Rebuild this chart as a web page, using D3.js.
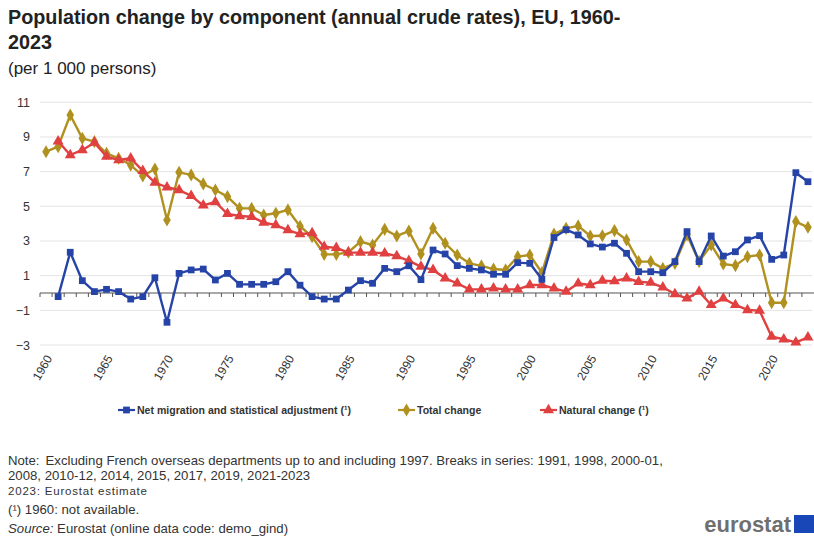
<!DOCTYPE html>
<html>
<head>
<meta charset="utf-8">
<script src="https://cdn.jsdelivr.net/npm/d3@7"></script>
<style>
  body { margin: 0; background: #fff; }
  svg { display: block; font-family: Arial, "Liberation Sans", sans-serif; }
</style>
</head>
<body>
<svg id="chart" width="814" height="536"></svg>
<script>
const years = d3.range(1960, 2024);
const netMigration = [null, -0.21, 2.35, 0.71, 0.08, 0.21, 0.08, -0.35, -0.21, 0.88,
  -1.69, 1.13, 1.33, 1.38, 0.75, 1.13, 0.5, 0.5, 0.5, 0.65,
  1.23, 0.45, -0.21, -0.35, -0.35, 0.17, 0.71, 0.56, 1.42, 1.23,
  1.57, 0.77, 2.48, 2.25, 1.58, 1.42, 1.33, 1.08, 1.08, 1.75,
  1.71, 0.79, 3.2, 3.65, 3.35, 2.83, 2.65, 2.87, 2.29, 1.23,
  1.23, 1.17, 1.81, 3.54, 1.81, 3.29, 2.13, 2.38, 3.06, 3.31,
  1.94, 2.19, 6.94, 6.42];
const totalChange = [8.15, 8.44, 10.27, 8.92, 8.73, 8.06, 7.77, 7.38, 6.75, 7.15,
  4.21, 6.96, 6.81, 6.29, 5.94, 5.56, 4.88, 4.88, 4.5, 4.6,
  4.79, 3.85, 3.25, 2.23, 2.23, 2.35, 2.96, 2.77, 3.67, 3.29,
  3.57, 2.25, 3.73, 2.87, 2.19, 1.71, 1.56, 1.38, 1.33, 2.1,
  2.19, 1.17, 3.4, 3.73, 3.87, 3.29, 3.3, 3.6, 3.06, 1.81,
  1.81, 1.42, 1.71, 3.35, 1.81, 2.77, 1.67, 1.58, 2.1, 2.19,
  -0.56, -0.56, 4.12, 3.79];
const naturalChange = [null, 8.75, 7.96, 8.25, 8.67, 7.87, 7.67, 7.77, 7.04, 6.37,
  6.1, 5.94, 5.6, 5.05, 5.25, 4.56, 4.44, 4.4, 4.06, 3.92,
  3.63, 3.4, 3.45, 2.67, 2.6, 2.33, 2.33, 2.33, 2.29, 2.13,
  1.85, 1.52, 1.33, 0.85, 0.56, 0.21, 0.21, 0.27, 0.21, 0.21,
  0.46, 0.46, 0.27, 0.08, 0.55, 0.46, 0.71, 0.68, 0.85, 0.65,
  0.6, 0.33, -0.06, -0.31, 0.08, -0.69, -0.31, -0.69, -0.98, -1.02,
  -2.52, -2.67, -2.85, -2.56];
const yTicks = [-3, -1, 1, 3, 5, 7, 9, 11];
const xTickLabels = [1960, 1965, 1970, 1975, 1980, 1985, 1990, 1995, 2000, 2005, 2010, 2015, 2020];
const seriesNames = ["Net migration and statistical adjustment (\u00b9)", "Total change", "Natural change (\u00b9)"];
const seriesColors = ["#2644A7", "#B09120", "#E04040"];

const svg = d3.select("#chart");
const xb = d3.scaleBand().domain(years).range([40, 814]);
const xc = d => xb(d) + xb.bandwidth() / 2;
const y = d3.scaleLinear().domain([-3, 11]).range([345, 102.3]);

// Title
svg.append("text").attr("x", 8).attr("y", 24).attr("font-size", 19.8).attr("font-weight", "bold").attr("fill", "#222")
  .text("Population change by component (annual crude rates), EU, 1960-");
svg.append("text").attr("x", 8).attr("y", 49).attr("font-size", 19.8).attr("font-weight", "bold").attr("fill", "#222")
  .text("2023");
svg.append("text").attr("x", 8).attr("y", 74).attr("font-size", 17).attr("fill", "#222")
  .text("(per 1 000 persons)");

// Gridlines
svg.append("g").selectAll("line").data(yTicks).join("line")
  .attr("x1", 40).attr("x2", 812).attr("y1", d => y(d)).attr("y2", d => y(d))
  .attr("stroke", "#e3e3e3").attr("stroke-width", 1);

// Y axis
const yAxis = svg.append("g").attr("transform", "translate(30,0)")
  .call(d3.axisLeft(y).tickValues(yTicks).tickSize(0).tickPadding(0).tickFormat(d3.format("d")));
yAxis.select(".domain").remove();
yAxis.selectAll("text").attr("font-size", 12.5).attr("fill", "#333").attr("font-family", "Arial, 'Liberation Sans', sans-serif");

// Zero axis line with ticks at category boundaries
const zeroY = y(0);
svg.append("line").attr("x1", 40).attr("x2", 814).attr("y1", zeroY).attr("y2", zeroY)
  .attr("stroke", "#555").attr("stroke-width", 1.2);
svg.append("g").selectAll("line").data(years).join("line")
  .attr("x1", d => xb(d)).attr("x2", d => xb(d)).attr("y1", zeroY).attr("y2", zeroY + 4)
  .attr("stroke", "#555").attr("stroke-width", 1);

// X labels
const xAxis = svg.append("g").attr("transform", "translate(0,352)")
  .call(d3.axisBottom(xb).tickValues(xTickLabels).tickSize(0).tickPadding(0));
xAxis.select(".domain").remove();
xAxis.selectAll("text")
  .attr("font-size", 12).attr("fill", "#333").attr("font-family", "Arial, 'Liberation Sans', sans-serif")
  .attr("text-anchor", "end").attr("dy", "0.35em").attr("y", 0)
  .attr("transform", "translate(3,4) rotate(-60)");

// Series
const allSeries = [netMigration, totalChange, naturalChange];
const line = d3.line().defined(d => d.v != null).x(d => xc(d.yr)).y(d => y(d.v));
const markerSym = [d3.symbolSquare, d3.symbolDiamond, d3.symbolTriangle];
const markerSize = [46, 50, 52];

[1, 2, 0].forEach(i => {
  const pts = years.map((yr, j) => ({ yr, v: allSeries[i][j] }));
  const g = svg.append("g");
  g.append("path").datum(pts).attr("d", line).attr("fill", "none")
    .attr("stroke", seriesColors[i]).attr("stroke-width", 2.4).attr("stroke-linejoin", "round");
  g.selectAll("path.m").data(pts.filter(d => d.v != null)).join("path").attr("class", "m")
    .attr("d", d3.symbol().type(markerSym[i]).size(markerSize[i]))
    .attr("transform", d => `translate(${xc(d.yr)},${y(d.v)})`)
    .attr("fill", seriesColors[i]);
});

// Legend (uniform horizontal compression so all labels look alike)
const legendX = [118, 398, 540];
const lg = svg.append("g");
const texts = [];
seriesNames.forEach((name, i) => {
  const gx = legendX[i];
  lg.append("line").attr("x1", gx).attr("x2", gx + 17).attr("y1", 410).attr("y2", 410)
    .attr("stroke", seriesColors[i]).attr("stroke-width", 2.2);
  lg.append("path").attr("d", d3.symbol().type(markerSym[i]).size(markerSize[i])())
    .attr("transform", `translate(${gx + 8.5},410)`).attr("fill", seriesColors[i]);
  texts.push(lg.append("text").attr("x", gx + 19).attr("y", 414).attr("font-size", 11.5).attr("font-weight", "bold")
    .attr("fill", "#333").text(name));
});
const f = 214 / texts[0].node().getComputedTextLength();
texts.forEach(t => {
  const w = t.node().getComputedTextLength();
  t.attr("textLength", w * f).attr("lengthAdjust", "spacingAndGlyphs");
});

// Footnotes
const fn = svg.append("g").attr("fill", "#333").attr("font-size", 13.2);
const n1 = fn.append("text").attr("x", 8).attr("y", 465);
n1.append("tspan").text("Note:");
n1.append("tspan").attr("dx", 6).text("Excluding French overseas departments up to and including 1997. Breaks in series: 1991, 1998, 2000-01,");
fn.append("text").attr("x", 8).attr("y", 480).text("2008, 2010-12, 2014, 2015, 2017, 2019, 2021-2023");
fn.append("text").attr("x", 8).attr("y", 495).attr("font-size", 11.5).attr("textLength", 139)
  .attr("lengthAdjust", "spacing").text("2023: Eurostat estimate");
fn.append("text").attr("x", 8).attr("y", 514).text("(\u00b9) 1960: not available.");
const src = fn.append("text").attr("x", 8).attr("y", 533);
src.append("tspan").attr("font-style", "italic").text("Source:");
src.append("tspan").text(" Eurostat (online data code: demo_gind)");

// Logo
svg.append("text").attr("x", 791).attr("y", 532).attr("text-anchor", "end").attr("font-size", 22)
  .attr("font-weight", "bold").attr("fill", "#6f6f6f").text("eurostat");
svg.append("rect").attr("x", 794).attr("y", 515).attr("width", 20).attr("height", 18).attr("fill", "#1a47b8");
</script>
</body>
</html>
